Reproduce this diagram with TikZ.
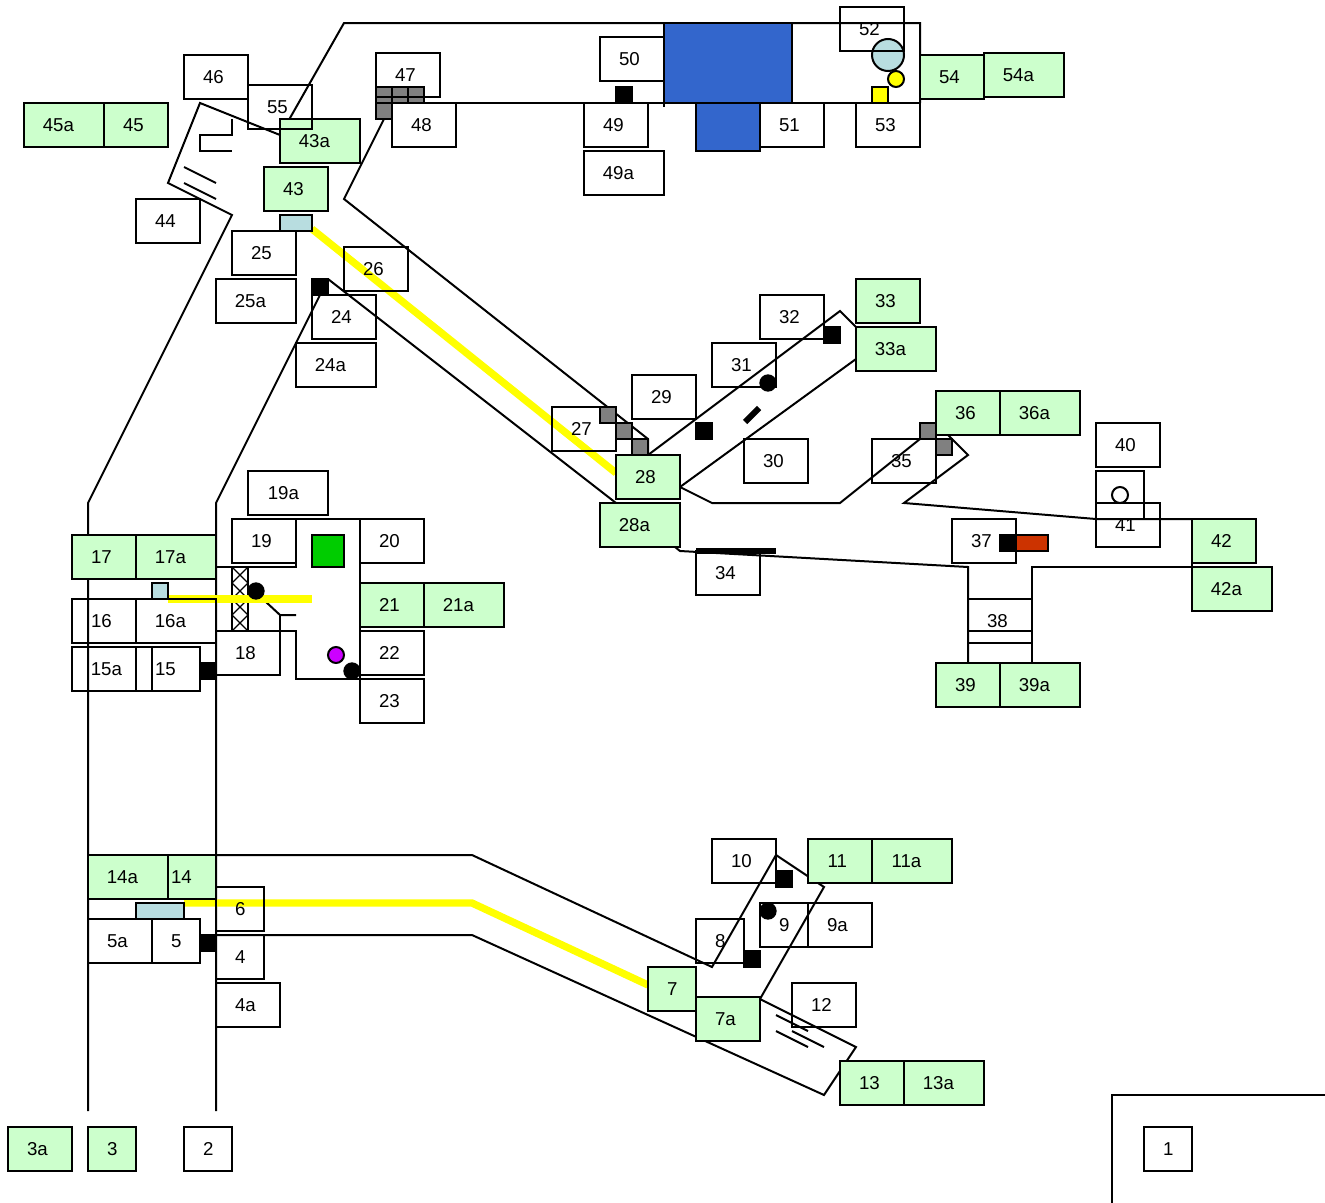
\documentclass[tikz,border=0pt]{standalone}
\usepackage{fontspec}
\setmainfont{Liberation Sans}
\definecolor{paleg}{HTML}{CCFFCC}
\definecolor{paleb}{HTML}{B8DDE0}
\definecolor{bluefill}{HTML}{3366CC}
\definecolor{grayfill}{HTML}{808080}
\definecolor{redfill}{HTML}{CC3300}
\definecolor{greenfill}{HTML}{00CC00}
\definecolor{magfill}{HTML}{CC00FF}
\definecolor{yellowfill}{HTML}{FFFF00}
\tikzset{
  wall/.style={draw=black,line width=1.5pt,line join=miter},
  plainbox/.style={draw=black,line width=1.5pt,rectangle,inner sep=0pt,outer sep=0pt,font=\fontsize{14pt}{16pt}\selectfont},
  greenbox/.style={plainbox,fill=paleg},
  yellowrun/.style={draw=yellowfill,line width=5.5pt},
  graysq/.style={draw=black,line width=1.5pt,fill=grayfill},
  blacksq/.style={fill=black,draw=black,line width=1pt},
  blackdot/.style={fill=black,draw=black,line width=1pt},
  lblue/.style={fill=paleb,draw=black,line width=1.5pt},
  hatchline/.style={draw=black,line width=1pt},
}
\newcommand\bx[8][plainbox]{%
  \pgfmathsetmacro\bxw{(#5-#3)*0.75}%
  \pgfmathsetmacro\bxh{(#6-#4)*0.75}%
  \pgfmathsetmacro\bxcx{(#3+#5)/2}%
  \pgfmathsetmacro\bxcy{(#4+#6)/2}%
  \pgfmathsetmacro\bxdx{(#7+0.4-\bxcx)*1.5}%
  \pgfmathsetmacro\bxdy{-(#8-\bxcy)*0.75-5}%
  \node[#1,minimum width=\bxw pt,minimum height=\bxh pt] (n#2) at (\bxcx,\bxcy)
    {\makebox[0pt]{\hspace*{\bxdx pt}\raisebox{\bxdy pt}[0pt][0pt]{#2}}};%
}
\newcommand\sq[4][blacksq]{\path[#1] (#2,#3) rectangle ++(#4,#4);}
\begin{document}
\begin{tikzpicture}[x=0.75pt,y=-0.75pt]
\useasboundingbox (0,0) rectangle (1325,1203);
% upper corridors
\draw[wall] (280,135) -- (290,118) -- (344,23) -- (920,23) -- (920,103);
\draw[wall] (376,103) -- (920,103);
\draw[wall] (664,103) -- (664,107);
\draw[wall] (384,119) -- (344,199) -- (648,439) -- (648,455);
\draw[wall] (328,279) -- (616,503);
\draw[wall] (320,295) -- (216,503) -- (216,1111);
\draw[wall] (280,135) -- (200,103) -- (168,183) -- (232,215) -- (88,503) -- (88,1111);
\draw[wall] (232,119) -- (232,135) -- (200,135) -- (200,151) -- (232,151);
\draw[wall] (184,167) -- (216,183);
\draw[wall] (184,183) -- (216,199);
% middle corridors
\draw[wall] (648,455) -- (840,311) -- (856,327);
\draw[wall] (856,359) -- (680,487) -- (712,503) -- (840,503) -- (920,439);
\draw[wall] (948,435) -- (968,455) -- (904,503) -- (1096,519) -- (1192,519);
\draw[wall] (1096,519) -- (1096,471) -- (1144,471) -- (1144,519);
\draw[wall] (1032,663) -- (1032,567) -- (1192,567);
\draw[wall] (1192,519) -- (1192,567);
\draw[wall] (968,663) -- (968,567) -- (680,551) -- (675,547);
\draw[wall] (968,631) -- (1032,631);
% central room
\draw[wall] (216,567) -- (296,567) -- (296,519) -- (360,519) -- (360,679) -- (296,679) -- (296,631) -- (216,631);
\draw[wall] (266,602) -- (280,615) -- (296,615);
\draw[wall] (280,615) -- (280,675);
% lower corridor
\draw[wall] (216,855) -- (472,855) -- (712,967) -- (776,855) -- (824,887) -- (760,999) -- (856,1047) -- (824,1095) -- (472,935) -- (216,935);
\draw[wall] (776,1015) -- (808,1031);
\draw[wall] (776,1031) -- (808,1047);
\draw[wall] (792,1031) -- (824,1047);
\draw[wall] (1112,1203) -- (1112,1095) -- (1325,1095);
% yellow runs
\draw[yellowrun] (312,229) -- (616,473);
\draw[yellowrun] (184,903) -- (472,903) -- (648,985);
% hatched strip
\path[fill=white,draw=black,line width=1.5pt] (232,567) rectangle (248,631);
\foreach \yy in {567,583,599,615}{
  \draw[hatchline] (232,\yy) -- (248,\yy+16);
  \draw[hatchline] (248,\yy) -- (232,\yy+16);
}
\draw[yellowrun] (168,599) -- (312,599);
% light fixtures under boxes
\path[lblue] (280,215) rectangle (312,231);
\path[lblue] (152,583) rectangle (168,599);
\path[lblue] (136,903) rectangle (184,919);
\path[lblue] (888,55) circle[radius=16];
% gray squares
\sq[graysq]{376}{87}{16}
\sq[graysq]{392}{87}{16}
\sq[graysq]{408}{87}{16}
\sq[graysq]{376}{103}{16}
\sq[graysq]{600}{407}{16}
\sq[graysq]{616}{423}{16}
\sq[graysq]{632}{439}{16}
\sq[graysq]{920}{423}{16}
\sq[graysq]{936}{439}{16}
% boxes
\bx{51}{760}{103}{824}{147}{789}{125}
\path[fill=bluefill,draw=black,line width=1.5pt] (664,23) rectangle (792,103);
\path[fill=bluefill,draw=black,line width=1.5pt] (696,103) rectangle (760,151);
\bx[greenbox]{45a}{24}{103}{104}{147}{58}{125}
\bx[greenbox]{45}{104}{103}{168}{147}{133}{125}
\bx{46}{184}{55}{248}{99}{213}{77}
\bx[greenbox]{43a}{280}{119}{360}{163}{314}{141}
\bx{55}{248}{85}{312}{129}{277}{107}
\bx[greenbox]{43}{264}{167}{328}{211}{293}{189}
\bx{47}{376}{53}{440}{97}{405}{75}
\bx{48}{392}{103}{456}{147}{421}{125}
\bx{44}{136}{199}{200}{243}{165}{221}
\bx{25}{232}{231}{296}{275}{261}{253}
\bx{25a}{216}{279}{296}{323}{250}{301}
\bx{26}{344}{247}{408}{291}{373}{269}
\bx{24}{312}{295}{376}{339}{341}{317}
\bx{24a}{296}{343}{376}{387}{330}{365}
\bx{50}{600}{37}{664}{81}{629}{59}
\bx{49}{584}{103}{648}{147}{613}{125}
\bx{49a}{584}{151}{664}{195}{618}{173}
\bx{52}{840}{7}{904}{51}{869}{29}
\bx{53}{856}{103}{920}{147}{885}{125}
\bx[greenbox]{54}{920}{55}{984}{99}{949}{77}
\bx[greenbox]{54a}{984}{53}{1064}{97}{1018}{75}
\bx[greenbox]{33}{856}{279}{920}{323}{885}{301}
\bx[greenbox]{33a}{856}{327}{936}{371}{890}{349}
\bx{32}{760}{295}{824}{339}{789}{317}
\bx{31}{712}{343}{776}{387}{741}{365}
\bx{29}{632}{375}{696}{419}{661}{397}
\bx{27}{552}{407}{616}{451}{581}{429}
\bx[greenbox]{28}{616}{455}{680}{499}{645}{477}
\bx[greenbox]{28a}{600}{503}{680}{547}{634}{525}
\bx{30}{744}{439}{808}{483}{773}{461}
\bx{34}{696}{551}{760}{595}{725}{573}
\bx{35}{872}{439}{936}{483}{901}{461}
\bx[greenbox]{36}{936}{391}{1000}{435}{965}{413}
\bx[greenbox]{36a}{1000}{391}{1080}{435}{1034}{413}
\bx{40}{1096}{423}{1160}{467}{1125}{445}
\bx{41}{1096}{503}{1160}{547}{1125}{525}
\bx{37}{952}{519}{1016}{563}{981}{541}
\bx{38}{968}{599}{1032}{643}{997}{621}
\bx[greenbox]{39}{936}{663}{1000}{707}{965}{685}
\bx[greenbox]{39a}{1000}{663}{1080}{707}{1034}{685}
\bx[greenbox]{42}{1192}{519}{1256}{563}{1221}{541}
\bx[greenbox]{42a}{1192}{567}{1272}{611}{1226}{589}
\bx{19a}{248}{471}{328}{515}{283}{493}
\bx{19}{232}{519}{296}{563}{261}{541}
\bx{20}{360}{519}{424}{563}{389}{541}
\bx[greenbox]{17}{72}{535}{136}{579}{101}{557}
\bx[greenbox]{17a}{136}{535}{216}{579}{170}{557}
\bx{16}{72}{599}{136}{643}{101}{621}
\bx{16a}{136}{599}{216}{643}{170}{621}
\bx{15a}{72}{647}{152}{691}{106}{669}
\bx{15}{136}{647}{200}{691}{165}{669}
\bx{18}{216}{631}{280}{675}{245}{653}
\bx[greenbox]{21}{360}{583}{424}{627}{389}{605}
\bx[greenbox]{21a}{424}{583}{504}{627}{458}{605}
\bx{22}{360}{631}{424}{675}{389}{653}
\bx{23}{360}{679}{424}{723}{389}{701}
\bx[greenbox]{14}{152}{855}{216}{899}{181}{877}
\bx[greenbox]{14a}{88}{855}{168}{899}{122}{877}
\bx{6}{216}{887}{264}{931}{240}{909}
\bx{5a}{88}{919}{152}{963}{117}{941}
\bx{5}{152}{919}{200}{963}{176}{941}
\bx{4}{216}{935}{264}{979}{240}{957}
\bx{4a}{216}{983}{280}{1027}{245}{1005}
\bx[greenbox]{7}{648}{967}{696}{1011}{672}{989}
\bx[greenbox]{7a}{696}{997}{760}{1041}{725}{1019}
\bx{8}{696}{919}{744}{963}{720}{941}
\bx{9}{760}{903}{808}{947}{784}{925}
\bx{9a}{808}{903}{872}{947}{837}{925}
\bx{10}{712}{839}{776}{883}{741}{861}
\bx[greenbox]{11}{808}{839}{872}{883}{837}{861}
\bx[greenbox]{11a}{872}{839}{952}{883}{906}{861}
\bx{12}{792}{983}{856}{1027}{821}{1005}
\bx[greenbox]{13}{840}{1061}{904}{1105}{869}{1083}
\bx[greenbox]{13a}{904}{1061}{984}{1105}{938}{1083}
\bx[greenbox]{3a}{8}{1127}{72}{1171}{37}{1149}
\bx[greenbox]{3}{88}{1127}{136}{1171}{112}{1149}
\bx{2}{184}{1127}{232}{1171}{208}{1149}
\bx{1}{1144}{1127}{1192}{1171}{1168}{1149}
% markers
\sq{312}{279}{16}
\sq{616}{87}{16}
\sq{824}{327}{16}
\sq{696}{423}{16}
\sq{1000}{535}{16}
\sq{200}{663}{16}
\sq{200}{935}{16}
\sq{776}{871}{16}
\sq{744}{951}{16}
\path[fill=redfill,draw=black,line width=1.5pt] (1016,535) rectangle (1048,551);
\path[fill=greenfill,draw=black,line width=1.5pt] (312,535) rectangle (344,567);
\path[fill=yellowfill,draw=black,line width=1.5pt] (872,87) rectangle (888,103);
\path[fill=yellowfill,draw=black,line width=1.5pt] (896,79) circle[radius=8];
\path[fill=magfill,draw=black,line width=1.5pt] (336,655) circle[radius=8];
\path[fill=white,draw=black,line width=1.5pt] (1120,495) circle[radius=8];
\path[blackdot] (768,383) circle[radius=8];
\path[blackdot] (256,591) circle[radius=8];
\path[blackdot] (352,671) circle[radius=8];
\path[blackdot] (768,911) circle[radius=8];
\fill[black] (696,548) rectangle (776,553.5);
\draw[black,line width=4.5pt] (745,422) -- (759,408);
\end{tikzpicture}
\end{document}
